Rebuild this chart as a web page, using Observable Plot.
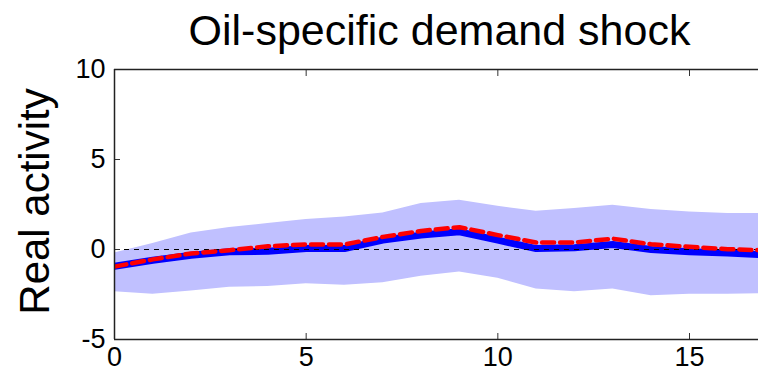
<!DOCTYPE html>
<html>
<head>
<meta charset="utf-8">
<script src="https://cdn.jsdelivr.net/npm/d3@7"></script>
<script src="https://cdn.jsdelivr.net/npm/@observablehq/plot@0.6"></script>
<style>
  html, body { margin: 0; padding: 0; background: #fff; }
  svg { display: block; }
</style>
</head>
<body>
<div id="chart"></div>
<script>
const titleText = "Oil-specific demand shock";
const yLabel = "Real activity";
const horizon = [0, 1, 2, 3, 4, 5, 6, 7, 8, 9, 10, 11, 12, 13, 14, 15, 16, 17];
const lowerBand = [-2.35, -2.48, -2.3, -2.1, -2.05, -1.9, -1.98, -1.85, -1.48, -1.25, -1.6, -2.2, -2.35, -2.2, -2.57, -2.48, -2.48, -2.45];
const upperBand = [-0.2, 0.33, 0.92, 1.22, 1.44, 1.67, 1.81, 2.03, 2.55, 2.74, 2.4, 2.13, 2.28, 2.46, 2.22, 2.09, 2.0, 2.0];
const blueLine = [-0.93, -0.6, -0.32, -0.13, -0.1, 0.05, 0.05, 0.52, 0.8, 0.98, 0.52, 0.05, 0.1, 0.28, 0.0, -0.13, -0.19, -0.3];
const redLine = [-0.95, -0.55, -0.22, -0.04, 0.18, 0.28, 0.28, 0.7, 1.03, 1.24, 0.8, 0.39, 0.39, 0.6, 0.29, 0.15, 0.02, -0.05];
const xTicks = [0, 5, 10, 15];
const yTicks = [-5, 0, 5, 10];

const rows = horizon.map((h, i) => ({h, lo: lowerBand[i], hi: upperBand[i], blue: blueLine[i], red: redLine[i]}));

const font = "'Liberation Sans', Arial, Helvetica, sans-serif";
const tk = 6;

const chart = Plot.plot({
  width: 758,
  height: 379,
  marginLeft: 114,
  marginRight: 0,
  marginTop: 69,
  marginBottom: 40,
  style: {fontFamily: font, background: "#fff", overflow: "visible"},
  x: {domain: [0, 16.8], label: null},
  y: {domain: [-5, 10], label: null},
  marks: [
    Plot.areaY(rows, {x: "h", y1: "lo", y2: "hi", fill: "#c0c0ff", clip: true}),
    Plot.lineY(rows, {x: "h", y: "blue", stroke: "#0000ff", strokeWidth: 7, clip: true}),
    Plot.ruleY([0], {stroke: "#000", strokeWidth: 1, strokeDasharray: "5,5"}),
    Plot.lineY(rows, {x: "h", y: "red", stroke: "#ff0000", strokeWidth: 4.5, strokeDasharray: "12,6", clip: true}),
    // inward ticks
    Plot.axisX({anchor: "bottom", ticks: xTicks, tickSize: tk, dy: -tk, text: null, stroke: "#333", label: null}),
    Plot.axisX({anchor: "top", ticks: xTicks, tickSize: tk, dy: tk, text: null, stroke: "#333", label: null}),
    Plot.axisY({anchor: "left", ticks: yTicks, tickSize: tk, dx: tk, text: null, stroke: "#333", label: null}),
    // tick labels
    Plot.axisX({anchor: "bottom", ticks: xTicks, tickSize: 0, tickPadding: 7, fontSize: 27, fill: "#000", label: null, tickFormat: d => String(d)}),
    Plot.axisY({anchor: "left", ticks: yTicks, tickSize: 0, tickPadding: 9, fontSize: 27, fill: "#000", label: null, tickFormat: d => String(d)}),
    Plot.ruleX([0], {stroke: "#222", strokeWidth: 1.5}),
    Plot.ruleY([-5], {stroke: "#222", strokeWidth: 1.5}),
    Plot.ruleY([10], {stroke: "#222", strokeWidth: 1.5}),
    Plot.text([titleText], {frameAnchor: "top", text: d => d, fontSize: 43, lineAnchor: "bottom", dy: -25, dx: 3, fill: "#000"}),
    Plot.text([yLabel], {frameAnchor: "left", text: d => d, fontSize: 42, rotate: -90, textAnchor: "middle", lineAnchor: "middle", dx: -79, dy: -3, fill: "#000"})
  ]
});
document.getElementById("chart").appendChild(chart);
</script>
</body>
</html>
